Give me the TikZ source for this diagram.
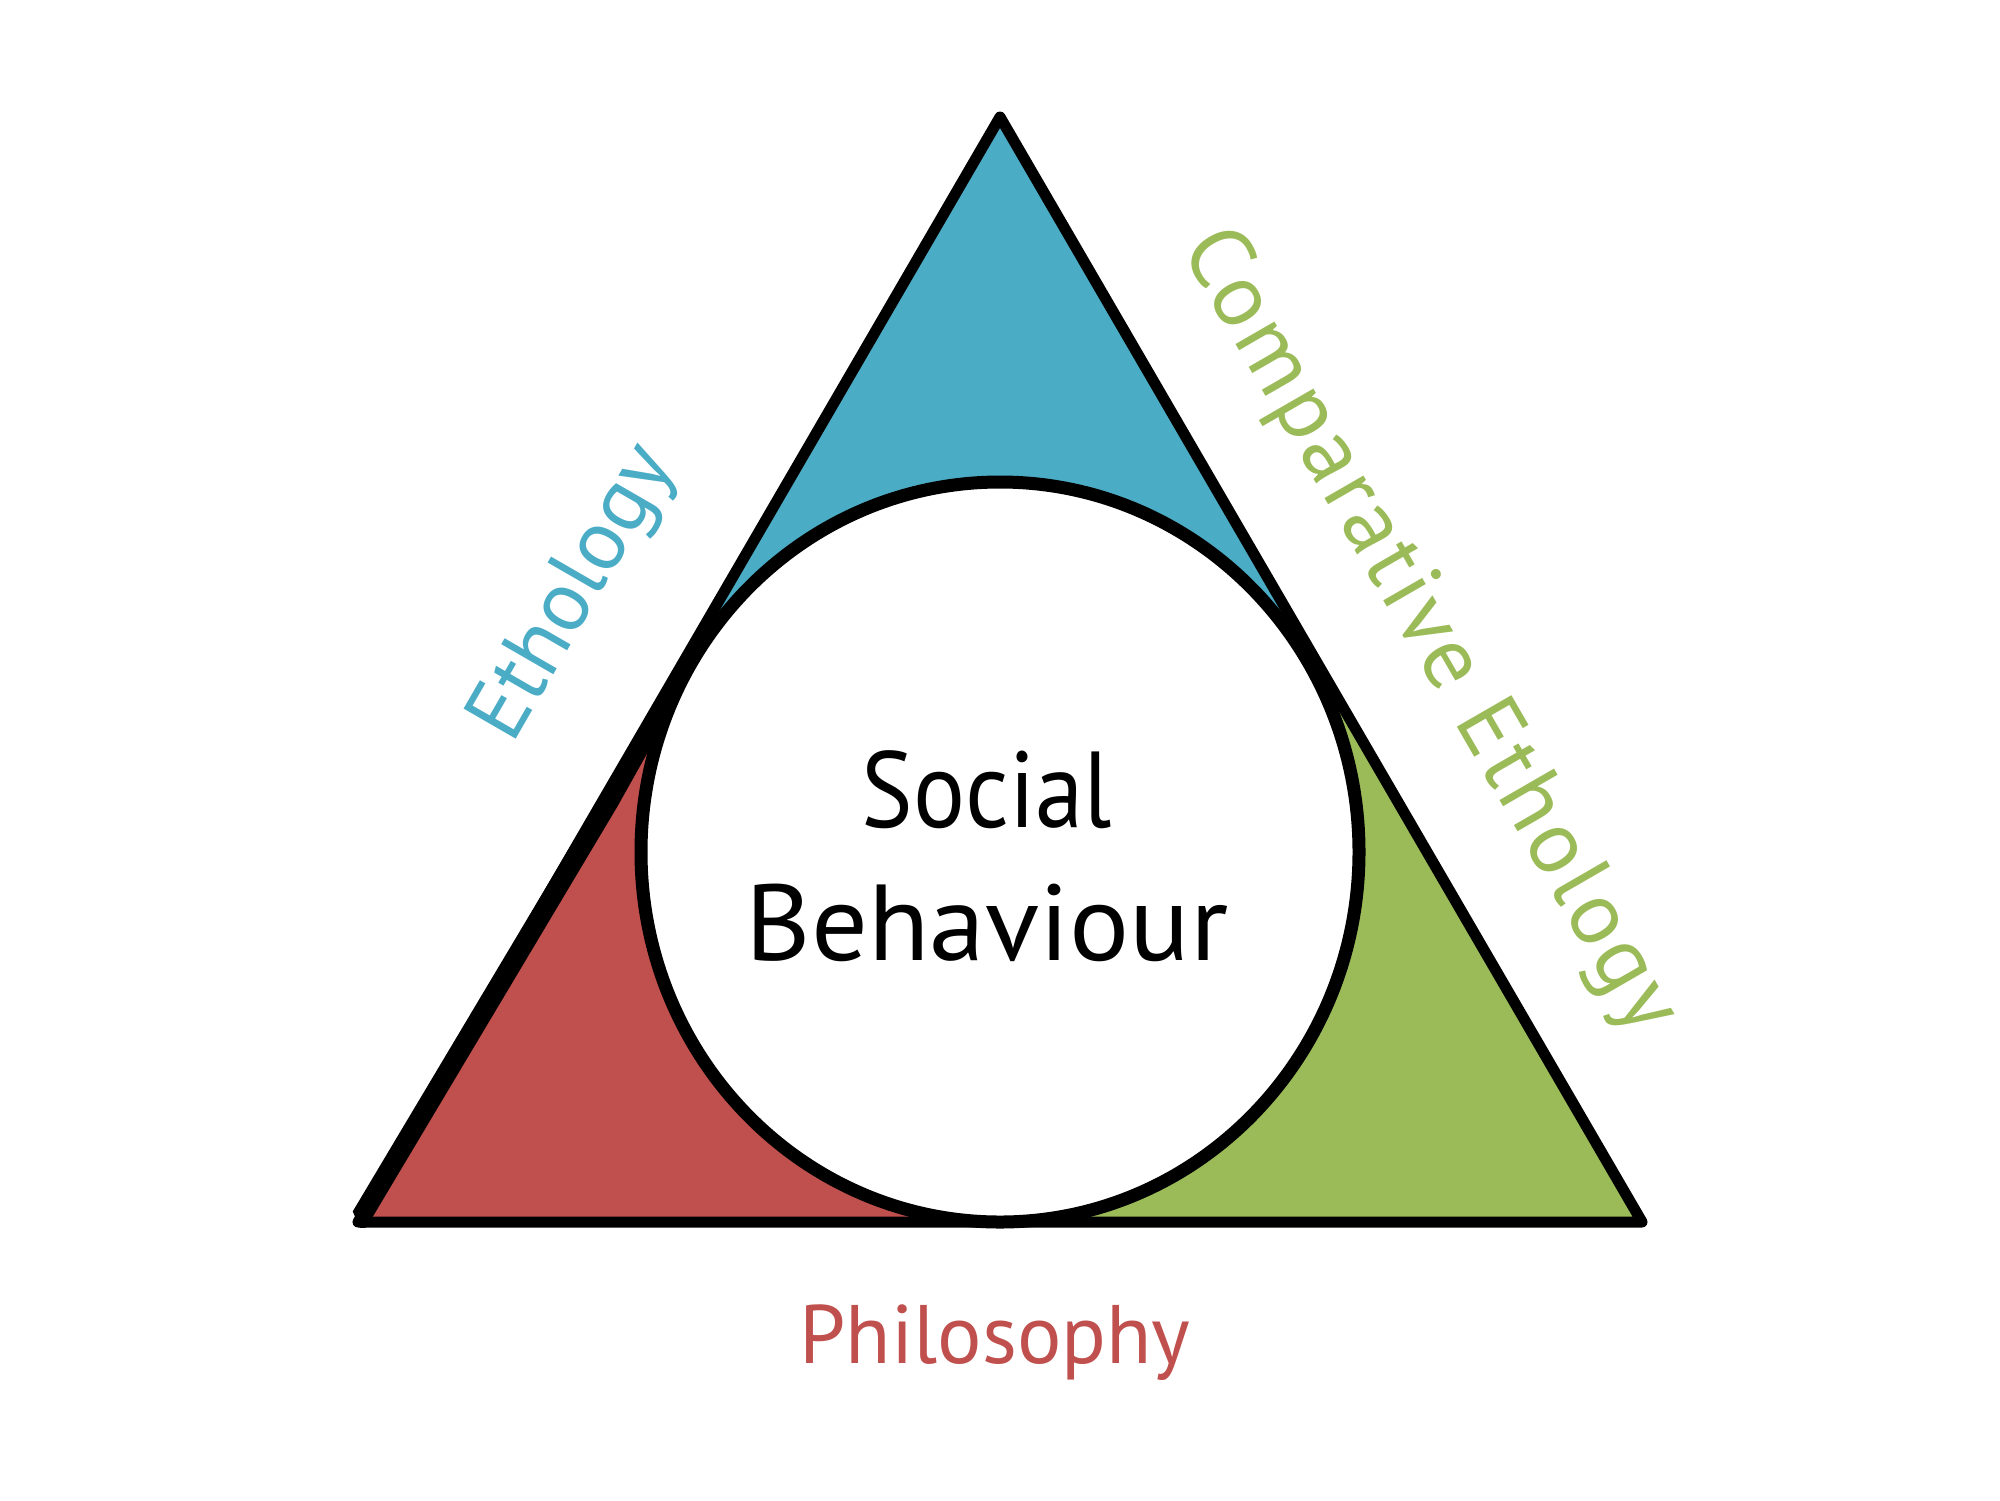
\documentclass[tikz,border=0pt]{standalone}
\usepackage{fontspec}
\setmainfont{PT Sans}
\usetikzlibrary{calc}
\definecolor{ethblue}{HTML}{4BACC6}
\definecolor{philred}{HTML}{C0504D}
\definecolor{compgreen}{HTML}{9BBB59}
\begin{document}
\begin{tikzpicture}[x=0.5pt,y=-0.5pt,
  maintext/.style={font=\fontsize{54}{62}\selectfont, inner sep=0pt, text=black},
  sidelabel/.style={inner sep=0pt},
  outline/.style={line width=5.5pt, line join=round, draw=black}]
\useasboundingbox (0,0) rectangle (2000,1500);
\coordinate (A) at (1000,117);
\coordinate (L) at (358,1222);
\coordinate (R) at (1642,1222);
\coordinate (O) at (1000,852);
\coordinate (TL) at (692,662);
\coordinate (TR) at (1308,662);
\begin{scope}
  \clip (A) -- (L) -- (R) -- cycle;
  \fill[ethblue] (0,0) rectangle (2000,662);
  \fill[philred] (0,662) rectangle (1000,1500);
  \fill[compgreen] (1000,662) rectangle (2000,1500);
\end{scope}
\fill[white] (O) ellipse[x radius=359, y radius=370];
\draw[outline] (A) -- (L) -- (R) -- cycle;
\begin{scope}
  \clip (0,0) rectangle (2000,1227.5);
  \fill[black] ($($(L)!0.01!(TL)$)+(-8.6,-5)$) -- ($($(L)!0.75!(TL)$)+(-8.6,-5)$) -- ($(TL)+(-4.8,-2.8)$)
     -- ($(TL)+(4.8,2.8)$) -- ($($(L)!0.75!(TL)$)+(8.6,5)$) -- ($(L)+(8.6,5)$) -- ($(L)+(3,8)$) -- cycle;
\end{scope}
\draw[line width=6.5pt] (O) ellipse[x radius=359, y radius=370];
\node[maintext, anchor=base] (social) at (987,827) {\scalebox{0.9}[1]{Social}};
\node[maintext, anchor=base] (behav) at (987,960) {\scalebox{1.04}[1]{Behaviour}};
\node[sidelabel, anchor=base, text=philred, font=\fontsize{41.5}{48}\selectfont] (phil) at (995,1363) {Philosophy};
\node[sidelabel, rotate=60, text=ethblue, font=\fontsize{43}{50}\selectfont] (eth) at (576,594) {Ethology};
\node[sidelabel, rotate=-60, text=compgreen, font=\fontsize{45}{52}\selectfont\addfontfeatures{LetterSpace=4}] (comp) at (1428,632) {Comparative Ethology};
\end{tikzpicture}
\end{document}
